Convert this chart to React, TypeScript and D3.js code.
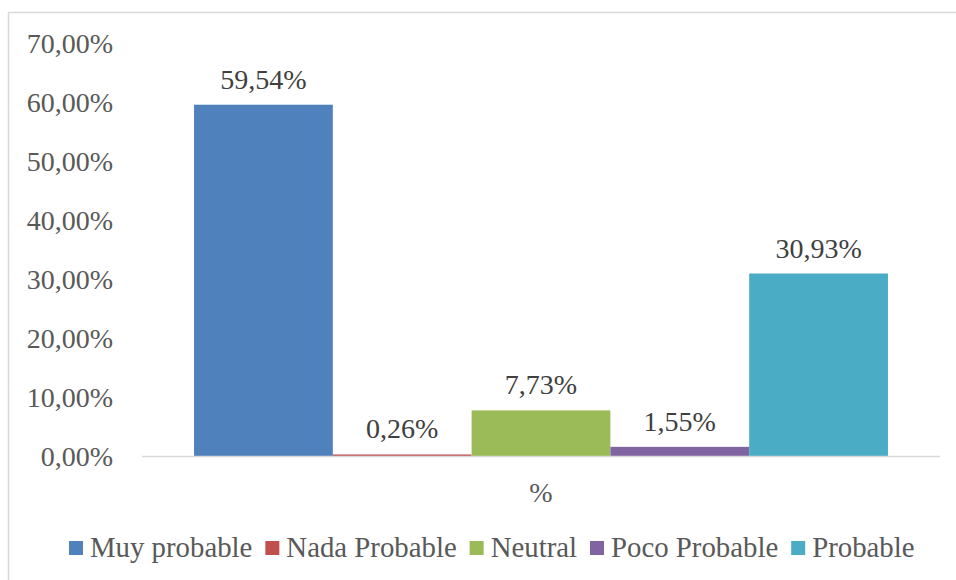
import React from "react";
import { scaleBand, scaleLinear } from "d3";

const categories = ["%"];
const seriesNames = ["Muy probable", "Nada Probable", "Neutral", "Poco Probable", "Probable"];
const seriesValues = [59.54, 0.26, 7.73, 1.55, 30.93];
const seriesColors = ["#4f81bd", "#c0504d", "#9bbb59", "#8064a2", "#4bacc6"];
const yTicks = [0, 10, 20, 30, 40, 50, 60, 70];

const W = 956;
const H = 580;
const FONT = '"Liberation Serif", "Times New Roman", serif';
const FS = 28;
const LEG_FS = 28.8;
const plot = { left: 142, right: 940, top: 43, bottom: 456 };

const fmt = (v: number) => v.toFixed(2).replace(".", ",") + "%";

const y = scaleLinear().domain([0, 70]).range([plot.bottom, plot.top]);
const x0 = scaleBand().domain(categories).range([plot.left, plot.right]).paddingInner(0).paddingOuter(0.075);
const x1 = scaleBand().domain(seriesNames).range([0, x0.bandwidth()]).padding(0);

function measure(text: string) {
  const ctx = document.createElement("canvas").getContext("2d");
  if (!ctx) return text.length * LEG_FS * 0.45;
  ctx.font = `${LEG_FS}px ${FONT}`;
  return ctx.measureText(text).width;
}

export default function App() {
  // legend layout: marker, gap, label, spacing
  let lx = 69;
  const legend = seriesNames.map((name, i) => {
    const item = { name, color: seriesColors[i], x: lx };
    lx += 14 + 7 + measure(name) + 13;
    return item;
  });

  return (
    <svg width={W} height={H} style={{ position: "absolute", left: 0, top: 0, background: "#fff", fontFamily: FONT }}>
      <rect x={8.5} y={12.5} width={W} height={H} fill="#fff" stroke="#d9d9d9" strokeWidth={1.5} />
      {yTicks.map((t) => (
        <text key={t} x={113} y={y(t)} dy="0.35em" textAnchor="end" fontSize={FS} fill="#595959">
          {fmt(t)}
        </text>
      ))}
      {categories.map((c) => (
        <g key={c} transform={`translate(${x0(c)},0)`}>
          {seriesNames.map((s, i) => {
            const v = seriesValues[i];
            const bx = x1(s) as number;
            return (
              <g key={s}>
                <rect x={bx} y={y(v)} width={x1.bandwidth()} height={y(0) - y(v)} fill={seriesColors[i]} />
                <text x={bx + x1.bandwidth() / 2} y={y(v) - 16} textAnchor="middle" fontSize={FS} fill="#404040">
                  {fmt(v)}
                </text>
              </g>
            );
          })}
        </g>
      ))}
      <line x1={plot.left} x2={plot.right} y1={plot.bottom + 0.5} y2={plot.bottom + 0.5} stroke="#d9d9d9" strokeWidth={1.5} />
      {categories.map((c) => (
        <text key={c} x={(x0(c) as number) + x0.bandwidth() / 2} y={502} textAnchor="middle" fontSize={FS} fill="#595959">
          {c}
        </text>
      ))}
      {legend.map((l) => (
        <g key={l.name}>
          <rect x={l.x} y={541} width={14} height={14} fill={l.color} />
          <text x={l.x + 21} y={557} fontSize={LEG_FS} fill="#595959">
            {l.name}
          </text>
        </g>
      ))}
    </svg>
  );
}
